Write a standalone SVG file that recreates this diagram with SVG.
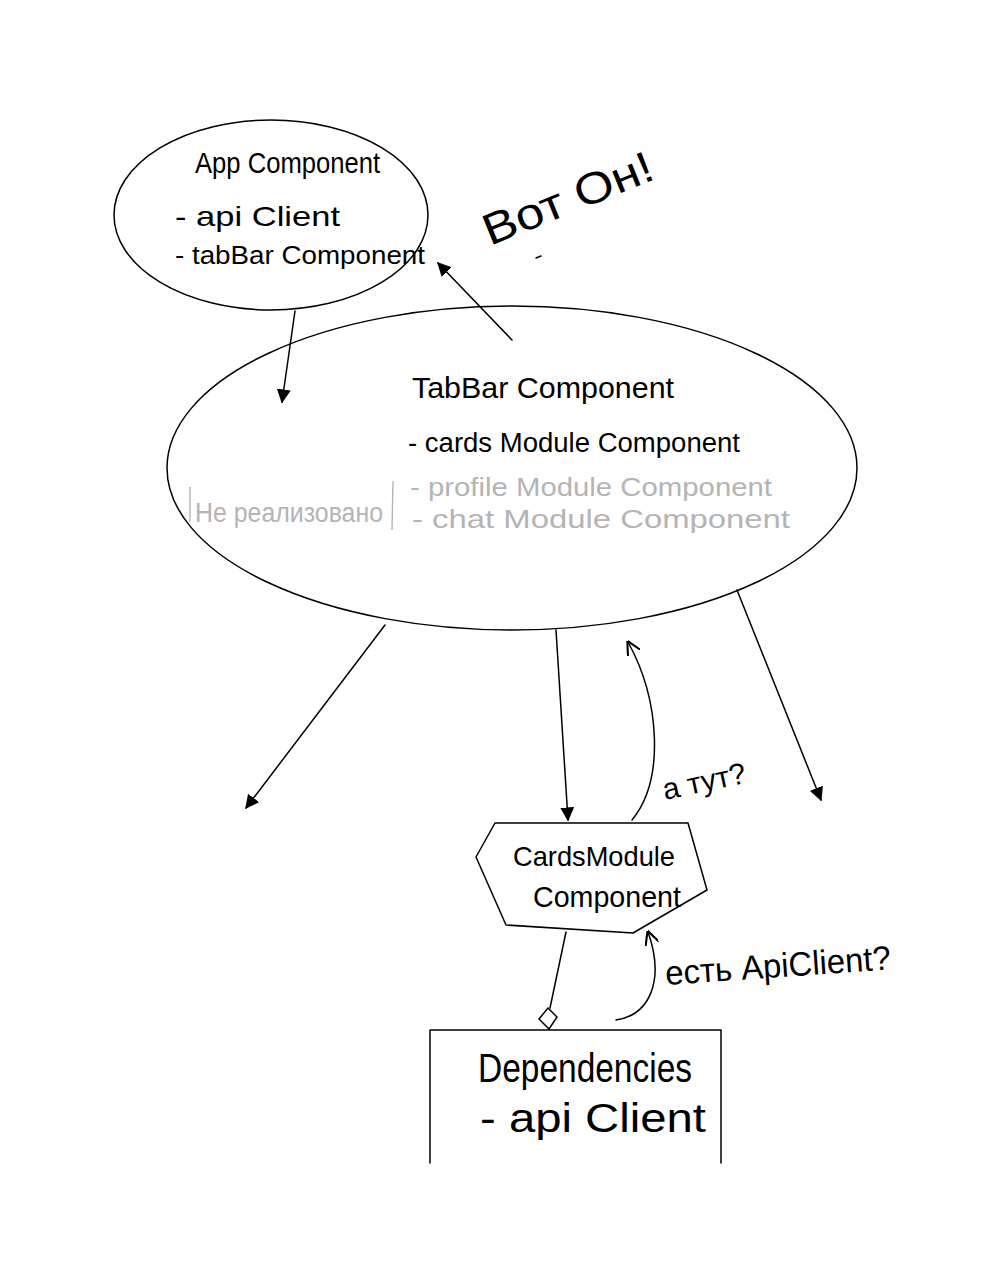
<svg xmlns="http://www.w3.org/2000/svg" width="989" height="1280" viewBox="0 0 989 1280">
<defs>
<style>
.s{fill:none;stroke:#000;stroke-width:1.5;stroke-linecap:round;stroke-linejoin:round}
.t{font-family:"Liberation Sans",Arial,sans-serif;fill:#000}
.g{font-family:"Liberation Sans",Arial,sans-serif;fill:#b4b4b4}
</style>
<marker id="fa" viewBox="0 0 10 10" refX="9" refY="5" markerWidth="14" markerHeight="14" markerUnits="userSpaceOnUse" orient="auto">
<path d="M0,0 L10,5 L0,10 z" fill="#000"/>
</marker>
<marker id="oa" viewBox="0 0 10 10" refX="9" refY="5" markerWidth="14" markerHeight="14" markerUnits="userSpaceOnUse" orient="auto">
<path d="M0,0 L10,5 L0,10" fill="none" stroke="#000" stroke-width="1.5"/>
</marker>
</defs>
<rect width="989" height="1280" fill="#fff"/>

<g id="app">
<ellipse class="s" cx="271" cy="215" rx="157" ry="95"/>
<text class="t" x="195" y="173" font-size="30" textLength="185" lengthAdjust="spacingAndGlyphs">App Component</text>
<text class="t" x="175" y="226" font-size="28" textLength="165" lengthAdjust="spacingAndGlyphs">- api Client</text>
<text class="t" x="175" y="264" font-size="25" textLength="250" lengthAdjust="spacingAndGlyphs">- tabBar Component</text>
</g>

<g id="note-vot">
<text class="t" x="490" y="246" font-size="44" transform="rotate(-22 490 246)" textLength="180" lengthAdjust="spacingAndGlyphs">Вот Он!</text>
<line class="s" x1="536" y1="258" x2="541" y2="256"/>
</g>

<g id="tabbar">
<ellipse class="s" cx="512" cy="468" rx="345" ry="162"/>
<text class="t" x="412" y="398" font-size="30" textLength="262" lengthAdjust="spacingAndGlyphs">TabBar Component</text>
<text class="t" x="408" y="452" font-size="27" textLength="332" lengthAdjust="spacingAndGlyphs">- cards Module Component</text>
<text class="g" x="410" y="496" font-size="26" textLength="362" lengthAdjust="spacingAndGlyphs">- profile Module Component</text>
<text class="g" x="412" y="528" font-size="26" textLength="378" lengthAdjust="spacingAndGlyphs">- chat Module Component</text>
<line x1="190" y1="487" x2="190" y2="522" stroke="#b4b4b4" stroke-width="1.4"/>
<text class="g" x="195" y="522" font-size="27" textLength="188" lengthAdjust="spacingAndGlyphs">Не реализовано</text>
<line x1="393" y1="481" x2="392" y2="530" stroke="#b4b4b4" stroke-width="1.4"/>
</g>

<g id="cards">
<path class="s" d="M495,823 L688,823 L707,890 L633,933 L506,925 L476,857 Z"/>
<text class="t" x="513" y="866" font-size="28" textLength="162" lengthAdjust="spacingAndGlyphs">CardsModule</text>
<text class="t" x="533" y="907" font-size="29" textLength="148" lengthAdjust="spacingAndGlyphs">Component</text>
</g>

<g id="deps">
<path class="s" d="M430,1163 L430,1030 L721,1030 L721,1163"/>
<text class="t" x="478" y="1082" font-size="40" textLength="214" lengthAdjust="spacingAndGlyphs">Dependencies</text>
<text class="t" x="480" y="1132" font-size="40" textLength="226" lengthAdjust="spacingAndGlyphs">- api Client</text>
</g>

<g id="labels">
<text class="t" x="665" y="800" font-size="30" transform="rotate(-12 665 800)">а тут?</text>
<text class="t" x="666" y="985" font-size="34" transform="rotate(-4 666 985)" textLength="226" lengthAdjust="spacingAndGlyphs">есть ApiClient?</text>
</g>

<g id="connectors">
<line class="s" x1="295" y1="311" x2="282" y2="402" marker-end="url(#fa)"/>
<line class="s" x1="512" y1="340" x2="438" y2="263" marker-end="url(#fa)"/>
<line class="s" x1="385" y1="625" x2="246" y2="808" marker-end="url(#fa)"/>
<line class="s" x1="556" y1="630" x2="568" y2="820" marker-end="url(#fa)"/>
<line class="s" x1="737" y1="590" x2="821" y2="800" marker-end="url(#fa)"/>
<path class="s" d="M632,820 C665,780 660,700 628,642" marker-end="url(#oa)"/>
<path class="s" d="M566,932 L550,1008"/>
<path d="M548,1008 L557,1017 L549,1029 L539,1019 Z" fill="#fff" stroke="#000" stroke-width="1.5"/>
<path class="s" d="M616,1020 C650,1015 665,980 648,932" marker-end="url(#oa)"/>
</g>
</svg>
